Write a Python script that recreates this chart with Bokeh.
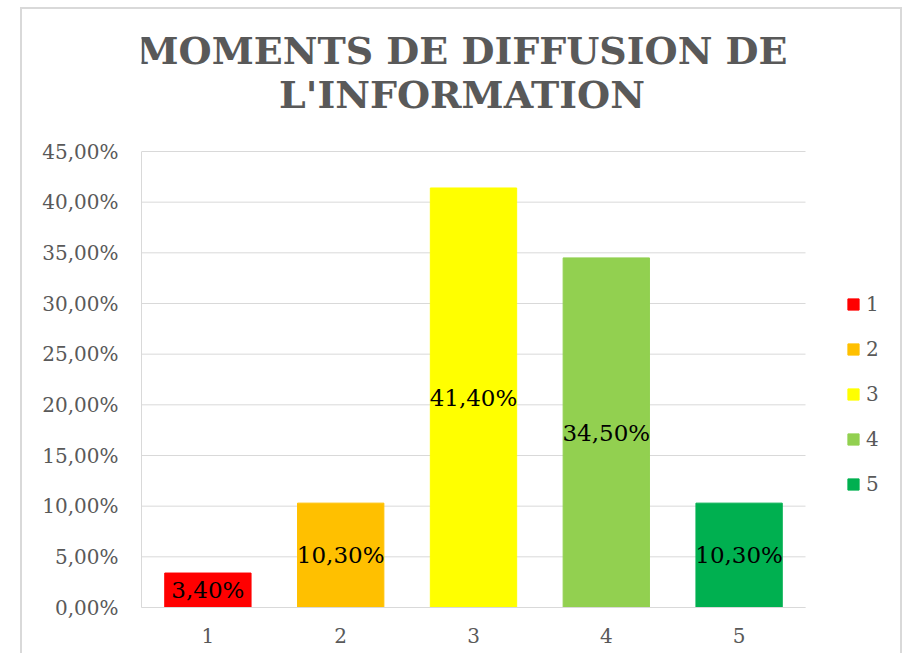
from bokeh.plotting import figure
from bokeh.models import (ColumnDataSource, Range1d, FixedTicker, Label,
                          Legend, LegendItem)
from bokeh.core.properties import value
from bokeh.embed import file_html
from bokeh.resources import INLINE

# ---- data ----
categories = ["1", "2", "3", "4", "5"]
values = [3.40, 10.30, 41.40, 34.50, 10.30]
value_labels = ["3,40%", "10,30%", "41,40%", "34,50%", "10,30%"]
bar_colors = ["#FF0000", "#FFC000", "#FFFF00", "#92D050", "#00B050"]
y_ticks = [0, 5, 10, 15, 20, 25, 30, 35, 40, 45]
y_tick_labels = ["0,00%", "5,00%", "10,00%", "15,00%", "20,00%",
                 "25,00%", "30,00%", "35,00%", "40,00%", "45,00%"]
title_lines = ["MOMENTS DE DIFFUSION DE", "L'INFORMATION"]

FONT = "DejaVu Serif"
GRAY = "#595959"
LIGHT = "#d9d9d9"

# ---- layout (pixels) ----
W, H = 882, 646
ML, MB = 119, 48
FRAME_W, FRAME_H = W - ML, H - MB
PLOT_W, PLOT_H = 664, 456          # width of the 5 categories / height of 0..45
n = len(categories)
y_max = y_ticks[-1]
x_end = n * FRAME_W / PLOT_W
y_end = y_max * FRAME_H / PLOT_H

xpos = [i + 0.5 for i in range(n)]
src = ColumnDataSource(dict(
    x=xpos,
    val=values,
    mid=[v / 2 for v in values],
    lbl=value_labels,
    color=bar_colors,
))

p = figure(
    x_range=Range1d(0, x_end),
    y_range=Range1d(0, y_end),
    width=W, height=H,
    output_backend="svg", toolbar_location=None, title=None,
    min_border_left=ML, min_border_right=0,
    min_border_top=0, min_border_bottom=MB,
)
p.styles = {"border-top": "2px solid #d9d9d9",
            "border-left": "2px solid #d9d9d9",
            "border-right": "2px solid #d9d9d9"}
p.margin = (7, 0, 0, 20)
p.outline_line_color = None
p.background_fill_color = "white"
p.border_fill_color = "white"
p.xgrid.visible = False
p.ygrid.visible = False

# gridlines over the category span
p.segment(x0=[0] * len(y_ticks), x1=[n] * len(y_ticks), y0=y_ticks, y1=y_ticks,
          line_color=LIGHT, line_width=1)

r = p.vbar(x="x", top="val", width=0.65, color="color", source=src)

p.text(x="x", y="mid", text="lbl", source=src, text_align="center",
       text_baseline="middle", text_font=value(FONT), text_font_size="23px",
       text_color="black")

# axes
p.yaxis.ticker = FixedTicker(ticks=y_ticks)
p.yaxis.major_label_overrides = {t: l for t, l in zip(y_ticks, y_tick_labels)}
p.yaxis.bounds = (0, y_max)
p.xaxis.ticker = FixedTicker(ticks=xpos)
p.xaxis.major_label_overrides = {x: c for x, c in zip(xpos, categories)}
p.xaxis.bounds = (0, n)
for ax in (p.xaxis, p.yaxis):
    ax.axis_line_color = LIGHT
    ax.axis_line_width = 1
    ax.major_tick_line_color = None
    ax.minor_tick_line_color = None
    ax.major_label_text_font = FONT
    ax.major_label_text_font_size = "20px"
    ax.major_label_text_color = GRAY
p.yaxis.major_label_standoff = 17
p.xaxis.major_label_standoff = 14

# title (positions relative to the frame's lower-left corner)
for txt, yb in zip(title_lines, [557.0, 513.0]):
    p.add_layout(Label(x=320.5, y=yb, x_units="screen", y_units="screen",
                       text=txt, text_align="center", text_baseline="alphabetic",
                       text_font=FONT, text_font_style="bold",
                       text_font_size="38px", text_color=GRAY))

# legend
lg = Legend(items=[LegendItem(label=c, renderers=[r], index=i)
                   for i, c in enumerate(categories)],
            location=(705, 111))
lg.border_line_color = None
lg.background_fill_alpha = 0
lg.padding = 0
lg.margin = 0
lg.glyph_width = 14
lg.glyph_height = 14
lg.label_height = 20
lg.label_standoff = 6
lg.spacing = 21
lg.label_text_font = FONT
lg.label_text_font_size = "20px"
lg.label_text_color = GRAY
p.add_layout(lg, "center")

open("out.html", "w").write(file_html(p, INLINE))
